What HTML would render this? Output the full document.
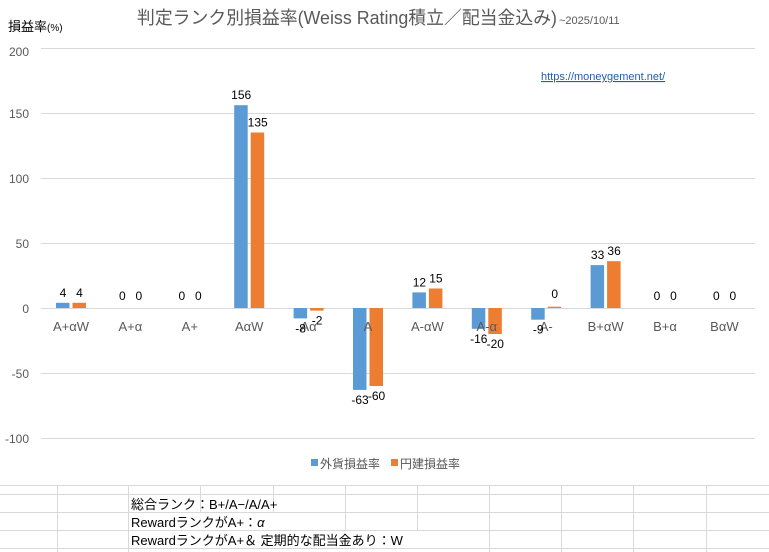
<!DOCTYPE html>
<html><head><meta charset="utf-8"><style>
body{margin:0;width:769px;height:552px;overflow:hidden;background:#fff;font-family:"Liberation Sans","Noto Sans CJK JP",sans-serif}
</style></head><body>
<svg width="769" height="552" xmlns="http://www.w3.org/2000/svg" style="position:absolute;left:0;top:0">
<g stroke="#d9d9d9" stroke-width="1">
<line x1="0" y1="494.5" x2="769" y2="494.5"/>
<line x1="0" y1="512.5" x2="769" y2="512.5"/>
<line x1="0" y1="530.5" x2="769" y2="530.5"/>
<line x1="0" y1="548.5" x2="769" y2="548.5"/>
<line x1="57.5" y1="486" x2="57.5" y2="552"/>
<line x1="128.5" y1="486" x2="128.5" y2="552"/>
<line x1="200.5" y1="486" x2="200.5" y2="494"/>
<line x1="273.5" y1="486" x2="273.5" y2="494"/>
<line x1="345.5" y1="486" x2="345.5" y2="494"/>
<line x1="417.5" y1="486" x2="417.5" y2="494"/>
<line x1="489.5" y1="486" x2="489.5" y2="552"/>
<line x1="561.5" y1="486" x2="561.5" y2="552"/>
<line x1="633.5" y1="486" x2="633.5" y2="552"/>
<line x1="706.5" y1="486" x2="706.5" y2="552"/>
<line x1="200.5" y1="494" x2="200.5" y2="512"/>
<line x1="273.5" y1="494" x2="273.5" y2="512"/>
<line x1="345.5" y1="494" x2="345.5" y2="530"/>
<line x1="417.5" y1="494" x2="417.5" y2="530"/>
<line x1="0" y1="485.5" x2="769" y2="485.5"/>
</g>
<g font-size="13" fill="#000">
<text x="131" y="509">総合ランク：B+/A−/A/A+</text>
<text x="131" y="527">RewardランクがA+：<tspan font-style="italic">α</tspan></text>
<text x="131" y="545">RewardランクがA+＆ 定期的な配当金あり：W</text>
</g>
<text x="137" y="24" font-size="18" fill="#595959" textLength="420" lengthAdjust="spacingAndGlyphs">判定ランク別損益率(Weiss Rating積立／配当金込み)</text>
<text x="559" y="24" font-size="11" fill="#595959">~2025/10/11</text>
<text x="8" y="31" font-size="13" fill="#000">損益率<tspan font-size="10">(%)</tspan></text>
<text x="541" y="80" font-size="11" fill="#1f5fa8" text-decoration="underline">https://moneygement.net/</text>
<g stroke="#d9d9d9" stroke-width="1">
<line x1="41" y1="48.5" x2="755" y2="48.5"/>
<line x1="41" y1="113.5" x2="755" y2="113.5"/>
<line x1="41" y1="178.5" x2="755" y2="178.5"/>
<line x1="41" y1="243.5" x2="755" y2="243.5"/>
<line x1="41" y1="373.5" x2="755" y2="373.5"/>
<line x1="41" y1="438.5" x2="755" y2="438.5"/>
<line x1="41" y1="308.5" x2="755" y2="308.5"/>
</g>
<g font-size="12" fill="#595959" text-anchor="end">
<text x="29" y="56">200</text><text x="29" y="118">150</text><text x="29" y="183">100</text>
<text x="29" y="248">50</text><text x="29" y="313">0</text><text x="29" y="378">-50</text><text x="29" y="443">-100</text>
</g>
<g id="bars"></g>
<g font-size="13" fill="#595959" text-anchor="middle" id="cats"></g>
<g font-size="12" fill="#000" text-anchor="middle" id="lbl"></g>
<rect x="311" y="459" width="7" height="7" fill="#5b9bd5"/>
<text x="320" y="468" font-size="12" fill="#595959">外貨損益率</text>
<rect x="391" y="459" width="7" height="7" fill="#ed7d31"/>
<text x="400" y="468" font-size="12" fill="#595959">円建損益率</text>
<script>
var cats=["A+αW","A+α","A+","AαW","Aα","A","A-αW","A-α","A-","B+αW","B+α","BαW"];
var b=[4,0,0,156,-8,-63,12,-16,-9,33,0,0],o=[4,0,0,135,-2,-60,15,-20,1,36,0,0];
var ol=[4,0,0,135,-2,-60,15,-20,0,36,0,0];
var ns="http://www.w3.org/2000/svg";
function el(g,t,a,txt){var e=document.createElementNS(ns,t);for(var k in a)e.setAttribute(k,a[k]);if(txt!=null)e.textContent=txt;document.getElementById(g).appendChild(e);}
for(var i=0;i<12;i++){var c=71+59.4*i;
[[b[i],b[i],c-15,"#5b9bd5",c-8],[o[i],ol[i],c+1.5,"#ed7d31",c+8.5]].forEach(function(s){
 var v=s[0],y0=308,h=Math.abs(v)*1.3,y=v>=0?y0-h:y0;
 if(h>0)el("bars","rect",{x:s[2],y:y,width:13.5,height:h,fill:s[3]});
 var ly=v>=0?y0-h-6:y0+h+14; if(v<=0&&s[1]==0)ly=y0-8; if(v>0&&v<2)ly=y0-10;
 el("lbl","text",{x:s[4],y:ly},String(s[1]));
});
el("cats","text",{x:c,y:331},cats[i]);}
</script>
</svg>
</body></html>
